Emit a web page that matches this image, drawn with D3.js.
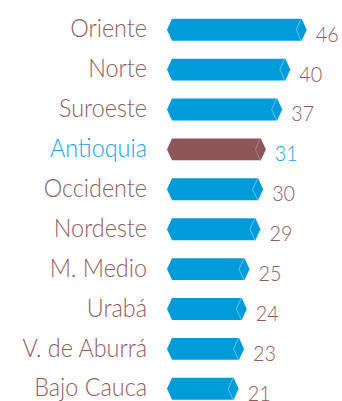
<!DOCTYPE html>
<html>
<head>
<meta charset="utf-8">
<script src="https://cdn.jsdelivr.net/npm/d3@7"></script>
<style>
  html, body { margin: 0; padding: 0; background: #ffffff; }
  svg { display: block; }
</style>
</head>
<body>
<svg id="chart" width="342" height="401"></svg>
<script>
// Regions of Antioquia and their values
const categories = ["Oriente", "Norte", "Suroeste", "Antioquia", "Occidente",
                    "Nordeste", "M. Medio", "Urabá", "V. de Aburrá", "Bajo Cauca"];
const values = [46, 40, 37, 31, 30, 29, 25, 24, 23, 21];
const highlighted = ["Antioquia"];

const data = categories.map((c, i) => ({ name: c, value: values[i], hi: highlighted.includes(c) }));

const BLUE = "#009bd9";
const BROWN = "#8d5558";
const TEXT = "#8f5b5e";
const TEXT_HI = "#1ba1df";

const svg = d3.select("#chart");

const y = d3.scaleBand()
  .domain(categories)
  .range([9.75, 408.75])
  .paddingInner(0.45)
  .paddingOuter(0.225);

const x = d3.scaleLinear()
  .domain([0, 46])
  .range([181.5, 306.7]);

const cap = 5;          // depth of the pointed ends
const lead = 14.5;      // left cap extends past the zero line

function barPath(d) {
  const y0 = y(d.name), h = y.bandwidth(), ym = y0 + h / 2;
  const xl = x(0) - lead, xr = x(d.value);
  return `M${xl},${ym} L${xl + cap},${y0} L${xr - cap},${y0} L${xr},${ym} L${xr - cap},${y0 + h} L${xl + cap},${y0 + h} Z`;
}

function chevronPath(d) {
  const y0 = y(d.name), h = y.bandwidth(), ym = y0 + h / 2;
  const xr = x(d.value) - cap - 0.5;
  return `M${xr},${y0} L${xr - cap},${ym} L${xr},${y0 + h}`;
}

const rows = svg.append("g").selectAll("g").data(data).join("g");

rows.append("path")
  .attr("d", barPath)
  .attr("fill", d => d.hi ? BROWN : BLUE);

rows.append("path")
  .attr("d", chevronPath)
  .attr("fill", "none")
  .attr("stroke", d => d.hi ? "#b48c8e" : "#7ccbef")
  .attr("stroke-width", 0.8);

// Category labels, right-aligned left of the bars
const labelFont = "Lato, 'Open Sans', sans-serif";
rows.append("text")
  .attr("transform", d => `translate(147,${y(d.name) + y.bandwidth() / 2 + 7.6}) scale(0.9,1)`)
  .attr("text-anchor", "end")
  .attr("font-family", labelFont)
  .attr("font-weight", 300)
  .attr("font-size", 26)
  .attr("fill", d => d.hi ? TEXT_HI : TEXT)
  .text(d => d.name);

// Value labels past the bar tips
rows.append("text")
  .attr("transform", d => `translate(${x(d.value) + 9},${y(d.name) + y.bandwidth() + 1}) scale(0.9,1)`)
  .attr("font-family", labelFont)
  .attr("font-weight", 300)
  .attr("font-size", 22)
  .attr("fill", d => d.hi ? TEXT_HI : TEXT)
  .text(d => d.value);
</script>
</body>
</html>
